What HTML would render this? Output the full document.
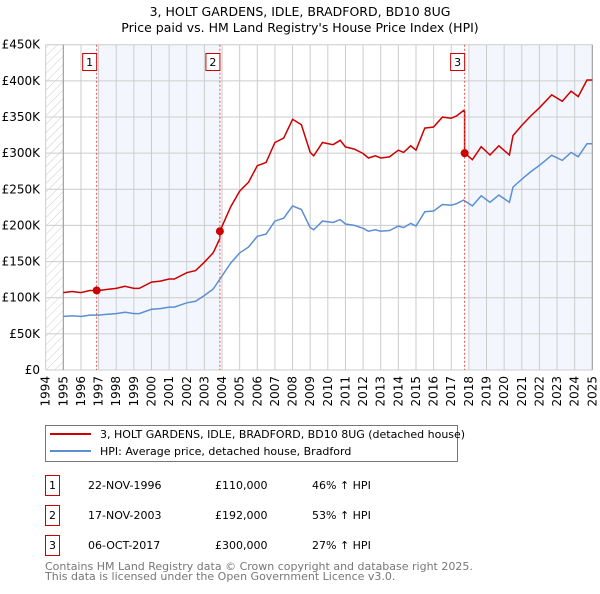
<!DOCTYPE html>
<html><head><meta charset="utf-8"><style>
body{margin:0;background:#fff;width:600px;height:590px;overflow:hidden;font-family:"DejaVu Sans","Liberation Sans",sans-serif;}
svg text{font-family:"DejaVu Sans","Liberation Sans",sans-serif;}
</style></head><body>
<svg id="chart" width="600" height="590" xmlns="http://www.w3.org/2000/svg">
<defs><pattern id="hatch" width="6" height="6" patternUnits="userSpaceOnUse" patternTransform="rotate(45)"><line x1="0" y1="0" x2="0" y2="6" stroke="#ccc" stroke-width="1"/></pattern></defs>
<text x="300" y="16" text-anchor="middle" font-size="12.5">3, HOLT GARDENS, IDLE, BRADFORD, BD10 8UG</text>
<text x="300" y="32" text-anchor="middle" font-size="12.5">Price paid vs. HM Land Registry's House Price Index (HPI)</text>
<g id="plot"></g>
<rect x="45.5" y="425.5" width="412" height="36" fill="#fff" stroke="#777"/>
<line x1="50" y1="434" x2="91" y2="434" stroke="#cc0000" stroke-width="2"/>
<text x="100" y="438" font-size="11">3, HOLT GARDENS, IDLE, BRADFORD, BD10 8UG (detached house)</text>
<line x1="50" y1="451" x2="91" y2="451" stroke="#5b8fd4" stroke-width="2"/>
<text x="100" y="455" font-size="11">HPI: Average price, detached house, Bradford</text>
<g id="table" font-size="11"></g>
<text x="45" y="570" font-size="11" fill="#777">Contains HM Land Registry data © Crown copyright and database right 2025.</text>
<text x="45" y="580" font-size="11" fill="#777">This data is licensed under the Open Government Licence v3.0.</text>
</svg>
<script>
const hpiYears=[1995,1995.5,1996,1996.5,1997,1997.5,1998,1998.5,1999,1999.3,2000,2000.5,2001,2001.3,2002,2002.5,2003,2003.5,2004,2004.5,2005,2005.5,2006,2006.5,2007,2007.5,2008,2008.5,2009,2009.2,2009.7,2010.3,2010.7,2011,2011.5,2012,2012.3,2012.7,2013,2013.5,2014,2014.3,2014.7,2015,2015.5,2016,2016.5,2017,2017.3,2017.7,2018.2,2018.7,2019.2,2019.7,2020.3,2020.5,2021,2021.5,2022,2022.7,2023.3,2023.8,2024.2,2024.7,2025];
const hpiValues=[74,75,74,76,76,77,78,80,78,78,84,85,87,87,93,95,103,112,130,148,162,170,185,188,206,210,227,222,197,194,206,204,208,202,200,196,192,194,192,193,199,197,203,199,219,220,229,228,230,235,227,241,232,242,232,253,264,274,283,297,290,301,295,313,313];
const saleYears=[1996.89,2003.88,2017.76];
const salePrices=[110,192,300];
const saleLabels=["1","2","3"];
const saleDates=["22-NOV-1996","17-NOV-2003","06-OCT-2017"];
const salePriceText=["£110,000","£192,000","£300,000"];
const saleDiff=["46% ↑ HPI","53% ↑ HPI","27% ↑ HPI"];
const yTicks=[0,50,100,150,200,250,300,350,400,450];
const yTickLabels=["£0","£50K","£100K","£150K","£200K","£250K","£300K","£350K","£400K","£450K"];
const xTicks=[1994,1995,1996,1997,1998,1999,2000,2001,2002,2003,2004,2005,2006,2007,2008,2009,2010,2011,2012,2013,2014,2015,2016,2017,2018,2019,2020,2021,2022,2023,2024,2025];

const NS="http://www.w3.org/2000/svg";
const X0=45.7,X1=592.3,Y0=370,Y1=44.7;
const xs=y=>X0+(y-1994)/(2025-1994)*(X1-X0);
const ys=v=>Y0-v/450*(Y0-Y1);
const plot=document.getElementById('plot');
function mk(tag,attrs,parent){const e=document.createElementNS(NS,tag);for(const k in attrs)e.setAttribute(k,attrs[k]);(parent||plot).appendChild(e);return e;}
function hpiAt(t){for(let i=1;i<hpiYears.length;i++){if(t<=hpiYears[i]){const f=(t-hpiYears[i-1])/(hpiYears[i]-hpiYears[i-1]);return hpiValues[i-1]+f*(hpiValues[i]-hpiValues[i-1]);}}return hpiValues[hpiValues.length-1];}

let el=mk('rect',{x:X0,y:Y1,width:xs(1995)-X0,height:Y0-Y1,fill:'url(#hatch)'});


el=mk('rect',{x:xs(1997),y:Y1,width:xs(saleYears[1])-xs(1997),height:Y0-Y1,fill:'#eef3fc',opacity:0.7});


el=mk('rect',{x:xs(2018),y:Y1,width:xs(2025)-xs(2018),height:Y0-Y1,fill:'#eef3fc',opacity:0.7});



yTicks.forEach((v,i)=>{
 const l=mk('line',{x1:X0,x2:X1,y1:ys(v),y2:ys(v),stroke:'#ccc','stroke-width':1});
 
 
 const t=mk('text',{x:40,y:ys(v)+4,'text-anchor':'end','font-size':'12'});
 t.textContent=yTickLabels[i];
 
 
});
xTicks.forEach(y=>{
 const l=mk('line',{x1:xs(y),x2:xs(y),y1:Y1,y2:Y0,stroke:'#ccc','stroke-width':1});
 
 
 const t=mk('text',{x:0,y:0,'text-anchor':'end','font-size':'12',transform:`translate(${xs(y)+4},${Y0+6}) rotate(-90)`});
 t.textContent=y;
 
 
});
el=mk('line',{x1:xs(1995),x2:xs(1995),y1:Y1,y2:Y0,stroke:'#999'});


el=mk('line',{x1:X1,x2:X1,y1:Y1,y2:Y0,stroke:'#999'});



// HPI line
let d=hpiYears.map((y,i)=>(i?'L':'M')+xs(y).toFixed(1)+','+ys(hpiValues[i]).toFixed(1)).join('');
el=mk('path',{d:d,fill:'none',stroke:'#5b8fd4','stroke-width':1.5});



// property line: HPI indexed from each sale
const factors=saleYears.map((s,i)=>salePrices[i]/hpiAt(s));
const pts=[];
hpiYears.forEach((y,i)=>{
 let k=0;for(let j=0;j<saleYears.length;j++)if(y>=saleYears[j])k=j;
 if(y<saleYears[0])k=0;
 pts.push([y,hpiValues[i]*factors[k]]);
});
saleYears.forEach((s,j)=>{ if(j>0)pts.push([s-0.001,hpiAt(s)*factors[j-1]]); pts.push([s,salePrices[j]]);});
pts.sort((a,b)=>a[0]-b[0]);
d=pts.map((p,i)=>(i?'L':'M')+xs(p[0]).toFixed(1)+','+ys(p[1]).toFixed(1)).join('');
el=mk('path',{d:d,fill:'none',stroke:'#cc0000','stroke-width':1.5});



saleYears.forEach((s,i)=>{
 const l=mk('line',{x1:xs(s),x2:xs(s),y1:Y1,y2:Y0,stroke:'#e05050','stroke-dasharray':'2,2','stroke-width':1});
 
 
 const c=mk('circle',{cx:xs(s),cy:ys(salePrices[i]),r:4,fill:'#cc0000'});
 
 
 const b=mk('rect',{x:xs(s)-14,y:53.5,width:14,height:17,fill:'#fff',stroke:'#cc0000'});
 
 
 const t=mk('text',{x:xs(s)-7,y:66,'text-anchor':'middle','font-size':'11'});
 t.textContent=saleLabels[i];
 
 
});

const table=document.getElementById('table');
saleLabels.forEach((lab,i)=>{
 const y=475+i*30;
 const b=mk('rect',{x:45.5,y:y+0.5,width:14,height:20,fill:'#fff',stroke:'#cc0000'},table);
 
 
 const cols=[[52.5,lab,'middle'],[88,saleDates[i],'start'],[215,salePriceText[i],'start'],[312,saleDiff[i],'start']];
 cols.forEach(c=>{
  const t=mk('text',{x:c[0],y:y+14,'text-anchor':c[2]},table);
  t.textContent=c[1];
  
  
 });
});
</script>
</body></html>
